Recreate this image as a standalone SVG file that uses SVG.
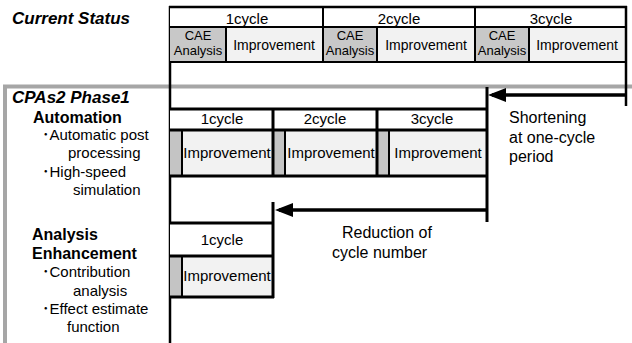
<svg xmlns="http://www.w3.org/2000/svg" width="632" height="343" viewBox="0 0 632 343">
  <style>
    text { font-family: "Liberation Sans", Arial, "Noto Sans CJK JP", sans-serif; fill: #000; }
    .title { font-size: 17px; font-weight: bold; font-style: italic; }
    .head { font-size: 16px; font-weight: bold; }
    .item { font-size: 15px; }
    .note { font-size: 16px; }
    .cyc { font-size: 15px; text-anchor: middle; }
    .imp { font-size: 15px; text-anchor: middle; }
    .imp-s { font-size: 14px; text-anchor: middle; }
    .cae { font-size: 13px; text-anchor: middle; }
    .frame { fill: none; stroke: #a6a6a6; stroke-width: 4; }
    .ln { stroke: #000; stroke-width: 2.5; fill: none; }
    .ln2 { stroke: #000; stroke-width: 2; fill: none; }
    .thick { stroke: #000; stroke-width: 3; fill: none; }
    .white { fill: #fff; }
    .work { fill: #f2f2f2; }
    .cae-cell { fill: #c8c8c8; }
    .strip { fill: #c4c4c4; }
    .arrow { stroke: #000; stroke-width: 3.5; fill: none; marker-end: url(#head); }
  </style>
  <defs>
    <marker id="head" markerUnits="userSpaceOnUse" viewBox="0 0 18 14" refX="14" refY="7" markerWidth="18" markerHeight="14" orient="auto">
      <path d="M0,0 L18,7 L0,14 z" fill="#000"/>
    </marker>
  </defs>

  <rect width="632" height="343" fill="#fff"/>

  <!-- grey frame of the phase block -->
  <path class="frame" d="M632,86.5 H5 V343"/>

  <!-- time axis (left rule) -->
  <line class="ln" x1="170" y1="6" x2="170" y2="343"/>

  <!-- current status: three cycles -->
  <g id="current-status">
    <text class="title" x="12" y="24">Current Status</text>
    <rect class="white" x="170" y="7" width="456" height="20"/>
    <rect class="cae-cell" x="170" y="27" width="56" height="35"/>
    <rect class="work" x="226" y="27" width="97" height="35"/>
    <rect class="cae-cell" x="323" y="27" width="54" height="35"/>
    <rect class="work" x="377" y="27" width="98" height="35"/>
    <rect class="cae-cell" x="475" y="27" width="54" height="35"/>
    <rect class="work" x="529" y="27" width="97" height="35"/>
    <line class="ln" x1="169" y1="7" x2="627" y2="7"/>
    <line class="ln2" x1="170" y1="27" x2="626" y2="27"/>
    <line class="ln2" x1="170" y1="62" x2="626" y2="62"/>
    <line class="ln2" x1="323" y1="7" x2="323" y2="62"/>
    <line class="ln2" x1="475" y1="7" x2="475" y2="62"/>
    <line class="ln2" x1="226" y1="27" x2="226" y2="62"/>
    <line class="ln2" x1="377" y1="27" x2="377" y2="62"/>
    <line class="ln2" x1="529" y1="27" x2="529" y2="62"/>
    <line class="ln" x1="626" y1="6" x2="626" y2="106"/>
    <text class="cyc" x="247" y="24">1cycle</text>
    <text class="cyc" x="399" y="24">2cycle</text>
    <text class="cyc" x="551" y="24">3cycle</text>
    <text class="cae" x="198" y="40">CAE</text>
    <text class="cae" x="198" y="55">Analysis</text>
    <text class="imp-s" x="274" y="50">Improvement</text>
    <text class="cae" x="350" y="40">CAE</text>
    <text class="cae" x="350" y="55">Analysis</text>
    <text class="imp-s" x="426" y="50">Improvement</text>
    <text class="cae" x="502" y="40">CAE</text>
    <text class="cae" x="502" y="55">Analysis</text>
    <text class="imp-s" x="577" y="50">Improvement</text>
  </g>

  <!-- phase 1: automation -->
  <g id="automation">
    <text class="title" x="12" y="103">CPAs2 Phase1</text>
    <text class="head" x="33" y="123">Automation</text>
    <text class="item" x="42" y="140">･Automatic post</text>
    <text class="item" x="68" y="158">processing</text>
    <text class="item" x="42" y="177">･High-speed</text>
    <text class="item" x="73" y="195">simulation</text>
    <rect class="white" x="170" y="109" width="317" height="21"/>
    <rect class="strip" x="170" y="130" width="12" height="46"/>
    <rect class="work" x="182" y="130" width="91" height="46"/>
    <rect class="strip" x="273" y="130" width="12" height="46"/>
    <rect class="work" x="285" y="130" width="92" height="46"/>
    <rect class="strip" x="377" y="130" width="12" height="46"/>
    <rect class="work" x="389" y="130" width="98" height="46"/>
    <line class="thick" x1="170" y1="109" x2="487" y2="109"/>
    <line class="thick" x1="170" y1="130" x2="487" y2="130"/>
    <line class="thick" x1="170" y1="176" x2="487" y2="176"/>
    <line class="thick" x1="273" y1="109" x2="273" y2="176"/>
    <line class="thick" x1="377" y1="109" x2="377" y2="176"/>
    <line class="ln2" x1="182" y1="130" x2="182" y2="176"/>
    <line class="ln2" x1="285" y1="130" x2="285" y2="176"/>
    <line class="ln2" x1="389" y1="130" x2="389" y2="176"/>
    <line class="thick" x1="487" y1="87" x2="487" y2="222"/>
    <text class="cyc" x="222" y="124">1cycle</text>
    <text class="cyc" x="325" y="124">2cycle</text>
    <text class="cyc" x="432" y="124">3cycle</text>
    <text class="imp" x="227" y="158">Improvement</text>
    <text class="imp" x="331" y="158">Improvement</text>
    <text class="imp" x="438" y="158">Improvement</text>
  </g>

  <!-- phase 1: analysis enhancement -->
  <g id="analysis-enhancement">
    <text class="head" x="32" y="240">Analysis</text>
    <text class="head" x="32" y="259">Enhancement</text>
    <text class="item" x="42" y="277">･Contribution</text>
    <text class="item" x="73" y="296">analysis</text>
    <text class="item" x="42" y="314">･Effect estimate</text>
    <text class="item" x="67" y="332">function</text>
    <rect class="white" x="170" y="223" width="103" height="33"/>
    <rect class="strip" x="170" y="256" width="12" height="41"/>
    <rect class="work" x="182" y="256" width="91" height="41"/>
    <line class="thick" x1="170" y1="223" x2="273" y2="223"/>
    <line class="thick" x1="170" y1="256" x2="273" y2="256"/>
    <line class="thick" x1="170" y1="297" x2="274" y2="297"/>
    <line class="ln2" x1="182" y1="256" x2="182" y2="297"/>
    <line class="thick" x1="273" y1="202" x2="273" y2="298"/>
    <text class="cyc" x="222" y="245">1cycle</text>
    <text class="imp" x="227" y="281">Improvement</text>
  </g>

  <!-- labels beside the arrows -->
  <g id="shortening-label">
    <text class="note" x="509" y="123">Shortening</text>
    <text class="note" x="509" y="143">at one-cycle</text>
    <text class="note" x="509" y="162">period</text>
  </g>
  <g id="reduction-label">
    <text class="note" x="342" y="238">Reduction of</text>
    <text class="note" x="332" y="258">cycle number</text>
  </g>

  <g id="connectors">
    <line class="arrow" x1="626" y1="95" x2="492" y2="95"/>
    <line class="arrow" x1="487" y1="210" x2="279" y2="210"/>
  </g>
</svg>
